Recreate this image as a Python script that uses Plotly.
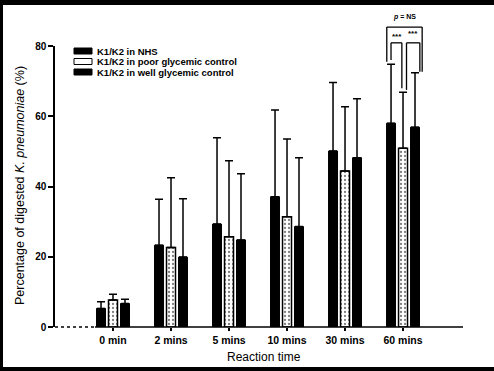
import plotly.graph_objects as go

categories = ["0 min", "2 mins", "5 mins", "10 mins", "30 mins", "60 mins"]
series_names = ["K1/K2 in NHS", "K1/K2 in poor glycemic control", "K1/K2 in well glycemic control"]
nhs = [5.3, 23.3, 29.3, 37.1, 50.1, 58.0]
nhs_err = [1.9, 13.1, 24.6, 24.7, 19.5, 16.8]
poor = [7.7, 22.6, 25.7, 31.4, 44.4, 50.9]
poor_err = [1.6, 19.9, 21.6, 22.1, 18.3, 15.9]
well = [6.7, 19.9, 24.8, 28.6, 48.2, 56.9]
well_err = [1.2, 16.6, 18.8, 19.6, 16.8, 15.5]
y_ticks = [0, 20, 40, 60, 80]

# plot-area geometry helpers (pixel -> paper)
L, R, T, B = 55, 463, 46, 327
def px(x):
    return (x - L) / (R - L)
def py(y):
    return (B - y) / (B - T)

font = "Arial, Liberation Sans, sans-serif"
fig = go.Figure()

def eb(arr):
    return dict(type="data", array=arr, arrayminus=[0] * len(arr), symmetric=False,
                color="black", thickness=1.5, width=4)

fig.add_trace(go.Bar(x=categories, y=nhs, name=series_names[0], error_y=eb(nhs_err),
                     marker=dict(color="black", line=dict(color="black", width=1))))
fig.add_trace(go.Bar(x=categories, y=poor, name=series_names[1], error_y=eb(poor_err),
                     marker=dict(color="white", line=dict(color="black", width=1.5),
                                 pattern=dict(shape=".", fgcolor="black", bgcolor="white",
                                              size=4, solidity=0.25))))
fig.add_trace(go.Bar(x=categories, y=well, name=series_names[2], error_y=eb(well_err),
                     marker=dict(color="black", line=dict(color="black", width=1))))

shapes = []
annotations = []

# significance brackets at 60 mins (category index 5), offsets of grouped bars
ymax = y_ticks[-1]
off = 12 / 58.0
c = 5
def seg(x0, y0, x1, y1):
    shapes.append(dict(type="line", xref="x", yref="paper", x0=x0, x1=x1,
                       y0=y0 / ymax, y1=y1 / ymax, line=dict(color="black", width=1.3)))

# NHS vs poor
seg(c - off, 76.0, c - off, 80.9); seg(c - off, 80.9, c - 0.02, 80.9); seg(c - 0.02, 80.9, c - 0.02, 68.0)
# poor vs well
seg(c + 0.06, 67.5, c + 0.06, 80.9); seg(c + 0.06, 80.9, c + 0.29, 80.9); seg(c + 0.29, 80.9, c + 0.29, 72.7)
# NHS vs well (NS)
seg(c - 0.28, 75.5, c - 0.28, 85.4); seg(c - 0.28, 85.4, c + 0.33, 85.4); seg(c + 0.33, 85.4, c + 0.33, 72.7)

def txt(x, yv, s, size):
    annotations.append(dict(x=x, y=yv / ymax, xref="x", yref="paper", text=s, showarrow=False,
                            xanchor="center", yanchor="middle",
                            font=dict(family=font, size=size, color="black")))

txt(c - 0.10, 82.8, "<b>***</b>", 8)
txt(c + 0.18, 83.6, "<b>***</b>", 8)
txt(c + 0.02, 88.2, "<b><i>p</i> = NS</b>", 7)

# x axis baseline: dotted at far left, solid elsewhere
shapes.append(dict(type="line", xref="paper", yref="paper", x0=px(55), x1=px(95), y0=0, y1=0,
                   line=dict(color="black", width=1.5, dash="dot")))
shapes.append(dict(type="line", xref="paper", yref="paper", x0=px(95), x1=px(463), y0=0, y1=0,
                   line=dict(color="black", width=1.5)))

# custom legend
leg_rows = [51, 61.5, 72]
leg_fill = ["black", "white", "black"]
for name, yy, fc in zip(series_names, leg_rows, leg_fill):
    shapes.append(dict(type="rect", xref="paper", yref="paper", x0=px(74), x1=px(92),
                       y0=py(yy + 3), y1=py(yy - 3), fillcolor=fc, line=dict(color="black", width=1)))
    annotations.append(dict(x=px(95), y=py(yy), xref="paper", yref="paper", text="<b>" + name + "</b>",
                            showarrow=False, xanchor="left", yanchor="middle",
                            font=dict(family=font, size=9.5, color="black")))

# scanned page frame bits
shapes.append(dict(type="rect", xref="paper", yref="paper", x0=px(0), x1=px(494),
                   y0=py(5), y1=py(0), fillcolor="black", line=dict(width=0), layer="above"))
shapes.append(dict(type="rect", xref="paper", yref="paper", x0=px(0), x1=px(3),
                   y0=py(371), y1=py(0), fillcolor="black", line=dict(width=0), layer="above"))
shapes.append(dict(type="rect", xref="paper", yref="paper", x0=px(0), x1=px(494),
                   y0=py(371), y1=py(367), fillcolor="black", line=dict(width=0), layer="above"))

# axis titles
annotations.append(dict(x=px(20), y=py(186), xref="paper", yref="paper",
                        text="Percentage of digested <i>K. pneumoniae</i> (%)", textangle=-90,
                        showarrow=False, xanchor="center", yanchor="middle",
                        font=dict(family=font, size=12.5, color="black")))
annotations.append(dict(x=px(264), y=py(357), xref="paper", yref="paper", text="Reaction time",
                        showarrow=False, xanchor="center", yanchor="middle",
                        font=dict(family=font, size=12, color="black")))

fig.update_layout(
    width=494, height=371,
    margin=dict(l=L, r=494 - R, t=T, b=371 - B),
    paper_bgcolor="white", plot_bgcolor="white",
    barmode="group", bargap=0.38, bargroupgap=0.25,
    showlegend=False,
    shapes=shapes, annotations=annotations,
    font=dict(family=font, size=10, color="black"),
)
fig.update_xaxes(type="category", range=[-1.0, 6.034], showline=False,
                 ticks="outside", ticklen=3, tickcolor="black", tickwidth=1.5,
                 showgrid=False, zeroline=False,
                 tickfont=dict(family=font, size=10.5, color="black", weight="bold"))
fig.update_yaxes(range=[0, ymax], tickvals=y_ticks, showline=True, linecolor="black", linewidth=1.5,
                 ticks="outside", ticklen=5, tickcolor="black", tickwidth=1.5, showgrid=False,
                 zeroline=False, tickfont=dict(family=font, size=10, color="black", weight="bold"))

fig.write_html("out.html")
